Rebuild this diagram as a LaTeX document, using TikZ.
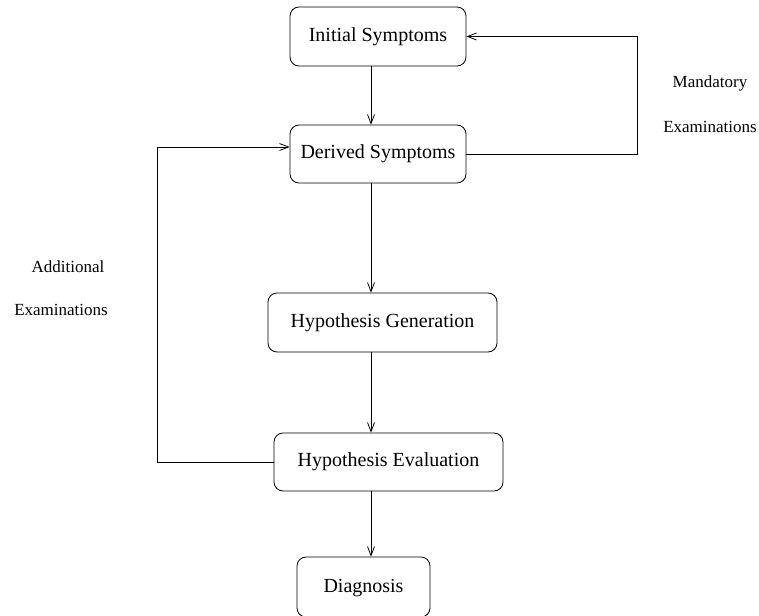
\documentclass[tikz,border=0pt]{standalone}
\usepackage{fontspec}
\setmainfont{Liberation Serif}
\usetikzlibrary{arrows.meta}
\begin{document}
\begin{tikzpicture}[x=1pt,y=-1pt,
  stage/.style={draw, line width=0.8pt, rounded corners=9pt, inner sep=0pt,
    font=\fontsize{20}{24}\selectfont},
  flow/.style={draw, line width=0.8pt, -{Straight Barb[length=9pt,width=7pt,line width=0.8pt]}},
  note/.style={font=\fontsize{17}{20}\selectfont}]
\useasboundingbox (0,0) rectangle (759,615);

% process stages
\node[stage, minimum width=176pt, minimum height=59pt] (init)    at (378,36.5)  {Initial Symptoms};
\node[stage, minimum width=176pt, minimum height=58pt] (derived) at (378,154)   {Derived Symptoms};
\node[stage, minimum width=229pt, minimum height=59pt] (hgen)    at (382.5,322.5) {Hypothesis Generation};
\node[stage, minimum width=229pt, minimum height=58pt] (heval)   at (388.5,462) {Hypothesis Evaluation};
\node[stage, minimum width=133pt, minimum height=60pt, text depth=0pt] (diag) at (363.5,587) {\raisebox{2pt}{Diagnosis}};

% main flow column
\coordinate (col) at (371,0);
\draw[flow] (init.south -| col)    -- (derived.north -| col);
\draw[flow] (derived.south -| col) -- (hgen.north -| col);
\draw[flow] (hgen.south -| col)    -- (heval.north -| col);
\draw[flow] (heval.south -| col)   -- (diag.north -| col);

% feedback loops
\coordinate (rloop) at (637,0);
\coordinate (lloop) at (157,0);
\draw[flow] (derived.east) -- (rloop |- derived.east) |- (init.east);
\draw[flow] (heval.west) -- (lloop |- heval.west) |- ([yshift=7pt]derived.west);

% loop labels
\node[note] (mand) at (710,83)  {Mandatory};
\node[note] (mexa) at (710,127) {Examinations};
\node[note] (addl) at (68,267)  {Additional};
\node[note] (aexa) at (61,310)  {Examinations};
\end{tikzpicture}
\end{document}
